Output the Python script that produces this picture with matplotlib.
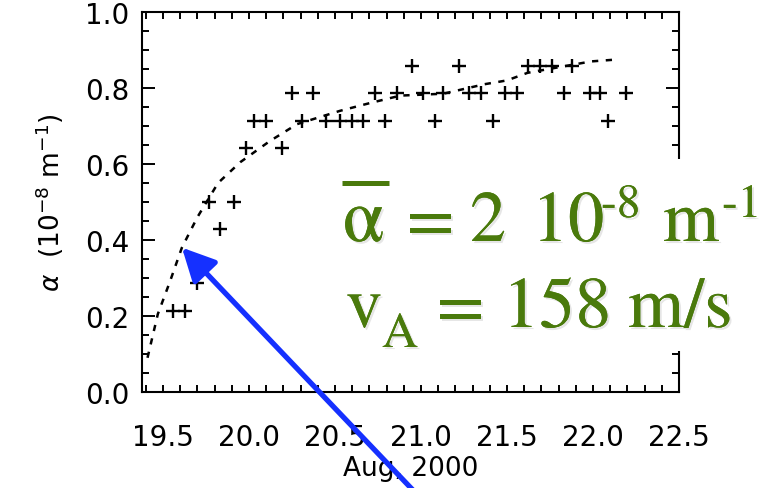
import matplotlib
matplotlib.use("Agg")
import matplotlib.pyplot as plt
import matplotlib.patheffects as pe
from matplotlib.patches import Rectangle
from matplotlib.lines import Line2D
from matplotlib.ticker import MultipleLocator

# ---- data ----
cross_x = [19.56, 19.63, 19.70, 19.83, 19.77, 19.91, 19.98, 20.19,
           20.03, 20.10, 20.31, 20.45, 20.53, 20.60, 20.66, 20.79, 21.08, 21.42, 22.09,
           20.25, 20.37, 20.73, 20.86, 21.01, 21.13, 21.28, 21.35, 21.49, 21.56, 21.83,
           21.98, 22.04, 22.19,
           20.95, 21.22, 21.62, 21.69, 21.76, 21.88]
cross_y = [0.214, 0.214, 0.286, 0.429, 0.500, 0.500, 0.643, 0.643,
           0.714, 0.714, 0.714, 0.714, 0.714, 0.714, 0.714, 0.714, 0.714, 0.714, 0.714,
           0.786, 0.786, 0.786, 0.786, 0.786, 0.786, 0.786, 0.786, 0.786, 0.786, 0.786,
           0.786, 0.786, 0.786,
           0.857, 0.857, 0.857, 0.857, 0.857, 0.857]

curve_x = [19.41, 19.47, 19.54, 19.61, 19.70, 19.82, 19.95, 20.12, 20.28, 20.53,
           20.70, 20.88, 21.13, 21.37, 21.50, 21.62, 21.99, 22.14]
curve_y = [0.09, 0.205, 0.29, 0.38, 0.46, 0.55, 0.605, 0.66, 0.705, 0.74,
           0.76, 0.78, 0.785, 0.81, 0.82, 0.84, 0.87, 0.875]

x_ticks = [19.5, 20.0, 20.5, 21.0, 21.5, 22.0, 22.5]
y_ticks = [0.0, 0.2, 0.4, 0.6, 0.8, 1.0]
arrow_tip = (19.61, 0.38)
arrow_tail = (21.02, -0.29)

W, H = 766, 489
fig = plt.figure(figsize=(W / 100, H / 100), dpi=100)
ax = fig.add_axes([142 / W, 1 - 393 / H, (679 - 142) / W, (393 - 13) / H])

ax.plot(curve_x, curve_y, color="black", lw=1.8, linestyle=(0, (2.5, 3.0)))
ax.plot(cross_x, cross_y, linestyle="none", marker="+", color="black",
        markersize=10, mew=1.7)

ax.set_xlim(19.378, 22.5)
ax.set_ylim(0.0, 1.0)
ax.set_xticks(x_ticks)
ax.set_xticklabels([f"{v:.1f}" for v in x_ticks])
ax.set_yticks(y_ticks)
ax.set_yticklabels([f"{v:.1f}" for v in y_ticks])
ax.xaxis.set_minor_locator(MultipleLocator(0.1))
ax.yaxis.set_minor_locator(MultipleLocator(0.05))
ax.tick_params(which="both", direction="in", top=True, right=True, width=1.4,
               color="black")
ax.tick_params(axis="x", which="major", length=5, pad=22, labelsize=20)
ax.tick_params(axis="x", which="minor", length=5)
ax.tick_params(axis="y", which="major", length=9.5, pad=9, labelsize=20)
ax.tick_params(axis="y", which="minor", length=5)
for s in ax.spines.values():
    s.set_linewidth(1.5)

ax.set_xlabel("Aug, 2000", fontsize=19, labelpad=3)
ax.set_ylabel(r"$\alpha$  (10$^{-8}$ m$^{-1}$)", fontsize=19, labelpad=14)

# white backing box behind the annotation text
fig.add_artist(Rectangle((325 / W, 1 - 352 / H), (W - 325) / W, (352 - 160) / H,
                         transform=fig.transFigure, facecolor="white",
                         edgecolor="none", zorder=5))

green = "#4a7a0c"
shadow = [pe.withSimplePatchShadow(offset=(1.5, -1.5), shadow_rgbFace="#c8c8c8", alpha=0.45),
          pe.Normal()]
serif = ["STIXGeneral", "Liberation Serif", "DejaVu Serif"]


def put(x_px, y_px, s, size):
    fig.text(x_px / W, 1 - y_px / H, s, fontsize=size, color=green, family=serif,
             ha="left", va="baseline", zorder=6, path_effects=shadow)


# line 1: alpha-bar = 2 10^-8 m^-1
put(343, 242, "α", 54)
fig.add_artist(Line2D([342 / W, 389 / W], [1 - 184 / H, 1 - 184 / H],
                      transform=fig.transFigure, color=green, lw=3.6,
                      solid_capstyle="butt", zorder=6))
put(407, 242, "=", 50)
put(470, 242, "2", 52)
put(532, 242, "10", 52)
put(601, 218, "-8", 34)
put(663, 242, "m", 52)
put(722, 218, "-1", 34)
# line 2: v_A = 158 m/s
put(346, 328, "v", 52)
put(382, 348, "A", 36)
put(437, 328, "=", 50)
put(503, 328, "158", 52)
put(628, 328, "m/s", 52)

ax.annotate("", xy=arrow_tip, xytext=arrow_tail, xycoords="data", textcoords="data",
            annotation_clip=False,
            arrowprops=dict(arrowstyle="-|>,head_length=2.0,head_width=1.0",
                            color="#1530ff", lw=3.8, shrinkA=0, shrinkB=0),
            zorder=7)

fig.savefig("out.png", dpi=100)
